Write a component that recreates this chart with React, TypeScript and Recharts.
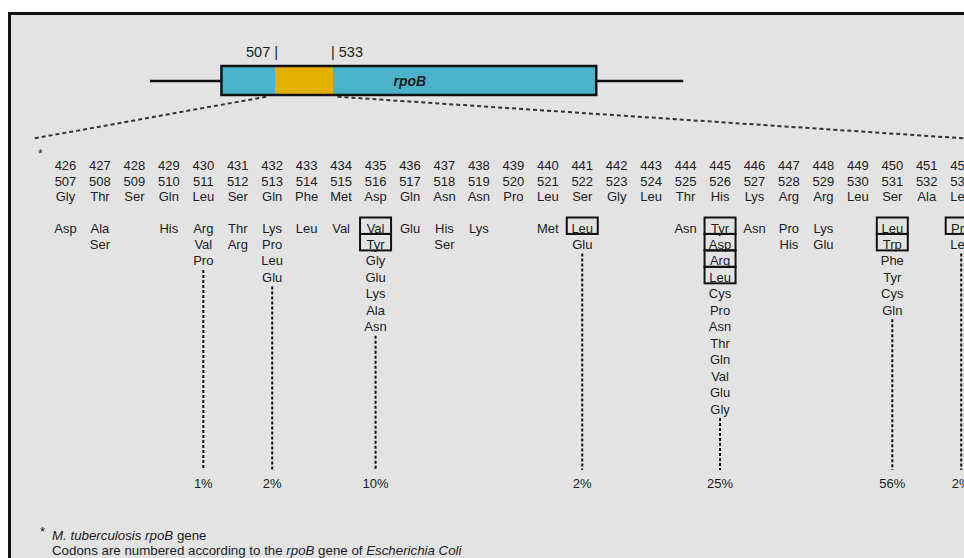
import { ComposedChart, XAxis, YAxis, Scatter, ReferenceArea, ReferenceLine } from 'recharts';

// M. tuberculosis codons and the matching E. coli numbering
const TB_CODONS = [426, 427, 428, 429, 430, 431, 432, 433, 434, 435, 436, 437, 438, 439, 440, 441, 442, 443, 444, 445, 446, 447, 448, 449, 450, 451, 452];
const EC_CODONS = [507, 508, 509, 510, 511, 512, 513, 514, 515, 516, 517, 518, 519, 520, 521, 522, 523, 524, 525, 526, 527, 528, 529, 530, 531, 532, 533];
const WILD_TYPE = ['Gly', 'Thr', 'Ser', 'Gln', 'Leu', 'Ser', 'Gln', 'Phe', 'Met', 'Asp', 'Gln', 'Asn', 'Asn', 'Pro', 'Leu', 'Ser', 'Gly', 'Leu', 'Thr', 'His', 'Lys', 'Arg', 'Arg', 'Leu', 'Ser', 'Ala', 'Leu'];

// substitutions found at each codon (first BOXED[i] of them are the frequent ones)
const MUTATIONS: string[][] = [
  ['Asp'],
  ['Ala', 'Ser'],
  [],
  ['His'],
  ['Arg', 'Val', 'Pro'],
  ['Thr', 'Arg'],
  ['Lys', 'Pro', 'Leu', 'Glu'],
  ['Leu'],
  ['Val'],
  ['Val', 'Tyr', 'Gly', 'Glu', 'Lys', 'Ala', 'Asn'],
  ['Glu'],
  ['His', 'Ser'],
  ['Lys'],
  [],
  ['Met'],
  ['Leu', 'Glu'],
  [],
  [],
  ['Asn'],
  ['Tyr', 'Asp', 'Arg', 'Leu', 'Cys', 'Pro', 'Asn', 'Thr', 'Gln', 'Val', 'Glu', 'Gly'],
  ['Asn'],
  ['Pro', 'His'],
  ['Lys', 'Glu'],
  [],
  ['Leu', 'Trp', 'Phe', 'Tyr', 'Cys', 'Gln'],
  [],
  ['Pro', 'Leu'],
];
const BOXED = [0, 0, 0, 0, 0, 0, 0, 0, 0, 2, 0, 0, 0, 0, 0, 1, 0, 0, 0, 4, 0, 0, 0, 0, 2, 0, 1];

// share of resistant isolates per site
const SITES = [430, 432, 435, 441, 445, 450, 452];
const SITE_FREQ = ['1%', '2%', '10%', '2%', '25%', '56%', '2%'];

// gene schematic, in E. coli codon units
const GENE_WINDOW = [507, 533];
const GENE_BOX = [483, 651];
const GENE_FLANKS = [451, 690];

const W = 964;
const H = 558;
const FONT = 'Liberation Sans, Arial, Helvetica, sans-serif';
const INK = '#1c1c1c';

// axis layout
const X_PX = 34.45;
const X_MIN = 426 - 65.5 / X_PX;
const X_MAX = X_MIN + W / X_PX;
const G_PX = 58 / 26;
const G_MIN = 507 - 275 / G_PX;
const G_MAX = G_MIN + W / G_PX;
const ROW_PX = 16.45;
const Y_MIN = -228 / ROW_PX;
const Y_MAX = Y_MIN + H / ROW_PX;

const ROW_TB = -3.83;
const ROW_EC = -2.86;
const ROW_AA = -1.89;
const ROW_FREQ = 15.5;
const ROW_DASH_END = 14.71;
const ROW_GENE_LABEL = -10.7;
const ROW_GENE_TOP = -9.85;
const ROW_GENE_BOTTOM = -8.08;
const ROW_GENE_MID = -8.94;
const ROW_ZOOM_END = -5.45;

const mainToGene = (c: number) => G_MIN + ((c - X_MIN) * X_PX) / G_PX;

const headerData = TB_CODONS.flatMap((c, i) => [
  { x: c, y: ROW_TB, label: String(c) },
  { x: c, y: ROW_EC, label: String(EC_CODONS[i]) },
  { x: c, y: ROW_AA, label: WILD_TYPE[i] },
]);

const mutationData = TB_CODONS.flatMap((c, i) =>
  MUTATIONS[i].map((m, r) => ({ x: c, y: r, label: m, boxed: r < BOXED[i] }))
);

const freqData = SITES.map((c, i) => ({ x: c, y: ROW_FREQ, label: SITE_FREQ[i] }));

const geneLabels = [
  { x: GENE_WINDOW[0], y: ROW_GENE_LABEL, label: '507 |', anchor: 'end', dx: 3, size: 14.5 },
  { x: GENE_WINDOW[1], y: ROW_GENE_LABEL, label: '| 533', anchor: 'start', dx: -2, size: 14.5 },
  { x: (GENE_BOX[0] + GENE_BOX[1]) / 2, y: ROW_GENE_MID, label: 'rpoB', anchor: 'middle', dx: 1, size: 14, gene: true },
];

const TextShape = (props: any) => {
  const { cx, cy, payload } = props;
  return (
    <g>
      {payload.boxed && (
        <rect x={cx - 15.5} y={cy - 10.5} width={31} height={ROW_PX} fill="none" stroke="#111" strokeWidth={2} />
      )}
      <text
        x={cx + (payload.dx || 0)}
        y={cy}
        dy="0.35em"
        textAnchor={payload.anchor || 'middle'}
        fontFamily={FONT}
        fontSize={payload.size || 13}
        fontStyle={payload.gene ? 'italic' : 'normal'}
        fontWeight={payload.gene ? 'bold' : 'normal'}
        fill={INK}
      >
        {payload.label}
      </text>
    </g>
  );
};

export default function App() {
  return (
    <div style={{ position: 'absolute', left: 0, top: 0, width: W, height: H, overflow: 'hidden', background: '#fff' }}>
      <div
        style={{
          position: 'absolute',
          left: 8,
          top: 12,
          width: 1000,
          height: 600,
          border: '3px solid #111',
          background: '#e3e3e3',
        }}
      />
      <div style={{ position: 'absolute', left: 0, top: 0 }}>
        <ComposedChart width={W} height={H} margin={{ top: 0, right: 0, bottom: 0, left: 0 }}>
          <XAxis xAxisId="tb" type="number" dataKey="x" domain={[X_MIN, X_MAX]} allowDataOverflow hide />
          <XAxis xAxisId="gene" type="number" dataKey="x" domain={[G_MIN, G_MAX]} allowDataOverflow hide />
          <YAxis yAxisId="rows" type="number" dataKey="y" domain={[Y_MIN, Y_MAX]} reversed allowDataOverflow hide />

          {/* gene schematic */}
          <ReferenceLine xAxisId="gene" yAxisId="rows" segment={[{ x: GENE_FLANKS[0], y: ROW_GENE_MID }, { x: GENE_BOX[0], y: ROW_GENE_MID }]} stroke="#111" strokeWidth={2.5} />
          <ReferenceLine xAxisId="gene" yAxisId="rows" segment={[{ x: GENE_BOX[1], y: ROW_GENE_MID }, { x: GENE_FLANKS[1], y: ROW_GENE_MID }]} stroke="#111" strokeWidth={2.5} />
          <ReferenceArea xAxisId="gene" yAxisId="rows" x1={GENE_BOX[0]} x2={GENE_BOX[1]} y1={ROW_GENE_TOP} y2={ROW_GENE_BOTTOM} fill="#4ab3cb" fillOpacity={1} stroke="none" />
          <ReferenceArea xAxisId="gene" yAxisId="rows" x1={GENE_WINDOW[0]} x2={GENE_WINDOW[1]} y1={ROW_GENE_TOP} y2={ROW_GENE_BOTTOM} fill="#e3b000" fillOpacity={1} stroke="none" />
          <ReferenceArea xAxisId="gene" yAxisId="rows" x1={GENE_BOX[0]} x2={GENE_BOX[1]} y1={ROW_GENE_TOP} y2={ROW_GENE_BOTTOM} fill="none" stroke="#111" strokeWidth={2.5} />

          {/* zoom guides */}
          <ReferenceLine xAxisId="gene" yAxisId="rows" segment={[{ x: GENE_WINDOW[0] - 4, y: ROW_GENE_BOTTOM + 0.1 }, { x: mainToGene(425.1), y: ROW_ZOOM_END }]} stroke="#333" strokeWidth={2} strokeDasharray="4 3" />
          <ReferenceLine xAxisId="gene" yAxisId="rows" segment={[{ x: GENE_WINDOW[1] + 2, y: ROW_GENE_BOTTOM + 0.1 }, { x: G_MAX, y: ROW_ZOOM_END }]} stroke="#333" strokeWidth={2} strokeDasharray="4 3" />

          {/* site guide lines */}
          {SITES.map((c) => (
            <ReferenceLine
              key={c}
              xAxisId="tb"
              yAxisId="rows"
              segment={[{ x: c, y: MUTATIONS[TB_CODONS.indexOf(c)].length - 0.45 }, { x: c, y: ROW_DASH_END }]}
              stroke="#111"
              strokeWidth={2}
              strokeDasharray="3 2"
            />
          ))}

          <Scatter xAxisId="gene" yAxisId="rows" data={geneLabels} shape={TextShape} isAnimationActive={false} />
          <Scatter xAxisId="tb" yAxisId="rows" data={headerData} shape={TextShape} isAnimationActive={false} />
          <Scatter xAxisId="tb" yAxisId="rows" data={mutationData} shape={TextShape} isAnimationActive={false} />
          <Scatter xAxisId="tb" yAxisId="rows" data={freqData} shape={TextShape} isAnimationActive={false} />
        </ComposedChart>
      </div>
      <div style={{ position: 'absolute', left: 38, top: 147, fontFamily: FONT, fontSize: 12, color: INK }}>*</div>
      <div style={{ position: 'absolute', left: 40, top: 524, fontFamily: FONT, fontSize: 13, color: INK }}>*</div>
      <div style={{ position: 'absolute', left: 52, top: 528, fontFamily: FONT, fontSize: 13.3, color: INK, lineHeight: '15px', whiteSpace: 'nowrap' }}>
        <div>
          <i>M. tuberculosis rpoB</i> gene
        </div>
        <div>
          Codons are numbered according to the <i>rpoB</i> gene of <i>Escherichia Coli</i>
        </div>
      </div>
    </div>
  );
}
